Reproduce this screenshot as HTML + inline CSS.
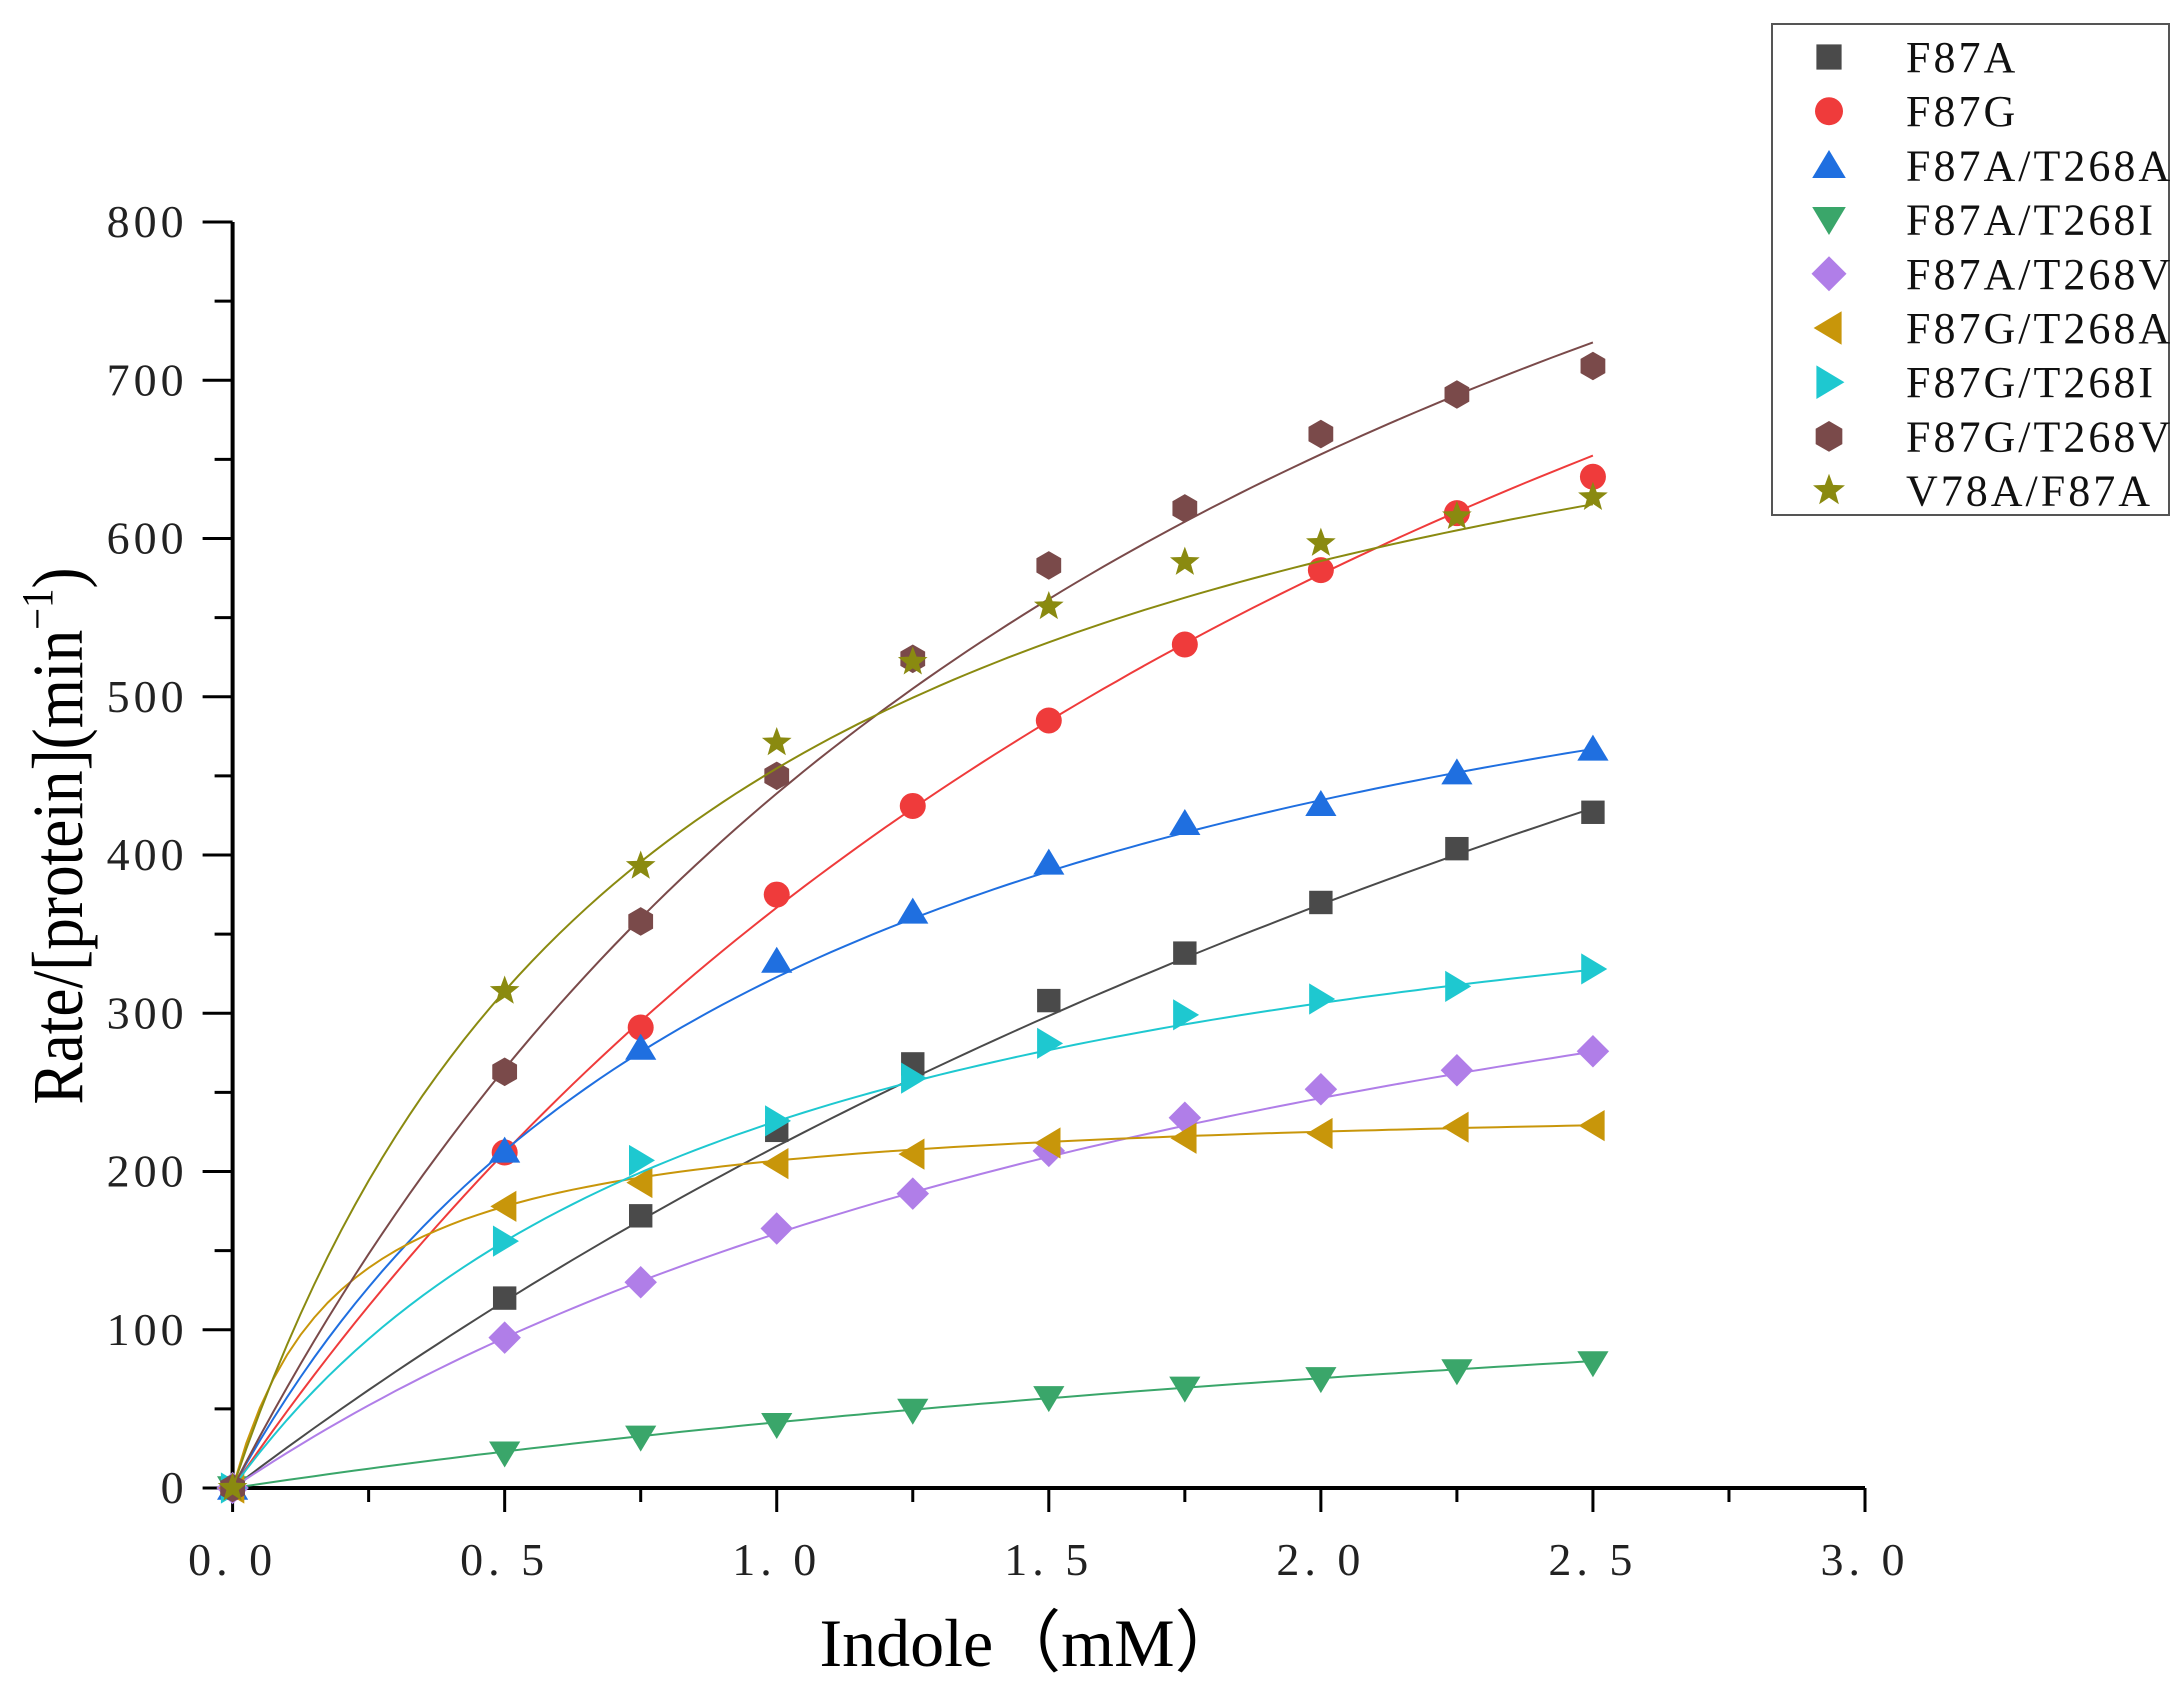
<!DOCTYPE html>
<html><head><meta charset="utf-8"><style>
html,body{margin:0;padding:0;background:#fff;}
svg{display:block;}
</style></head><body>
<svg id="chart" width="2184" height="1699" viewBox="0 0 2184 1699" xmlns="http://www.w3.org/2000/svg">
<g id="axes"></g>
<g id="series"></g>
<g id="legend"></g>
<text x="1031" y="1666" text-anchor="middle" font-family="Liberation Serif, serif" font-size="68">Indole（mM）</text>
<text transform="translate(82,836) rotate(-90) scale(0.88,1)" text-anchor="middle" font-family="Liberation Serif, serif" font-size="72">Rate/[protein](min<tspan dy="-30" font-size="44">−1</tspan><tspan dy="30">)</tspan></text>
</svg>
<script>
const xValues=[0,0.5,0.75,1,1.25,1.5,1.75,2,2.25,2.5];
const seriesNames=["F87A","F87G","F87A/T268A","F87A/T268I","F87A/T268V","F87G/T268A","F87G/T268I","F87G/T268V","V78A/F87A"];
const yF87A=[0,120,172,226,268,308,338,370,404,427];
const yF87G=[0,212,291,375,431,485,533,580,616,639];
const yF87A_T268A=[0,213,278,333,364,395,420,432,452,467];
const yF87A_T268I=[0,22,32,40,49,57,63,69,74,79];
const yF87A_T268V=[0,95,130,164,186,213,234,252,264,276];
const yF87G_T268A=[0,178,193,205,211,218,221,224,228,229];
const yF87G_T268I=[0,156,207,232,259,281,299,309,317,328];
const yF87G_T268V=[0,263,358,450,524,583,619,666,691,709];
const yV78A_F87A=[0,314,393,471,522,557,585,597,614,626];
const fitVmax=[1263,1357,665,211,526,247,452,1277,823];
const fitKm=[4.85,2.70,1.06,4.08,2.27,0.194,0.95,1.91,0.81];
const xTicks=["0. 0","0. 5","1. 0","1. 5","2. 0","2. 5","3. 0"];
const yTicks=["0","100","200","300","400","500","600","700","800"];

const allY=[yF87A,yF87G,yF87A_T268A,yF87A_T268I,yF87A_T268V,yF87G_T268A,yF87G_T268I,yF87G_T268V,yV78A_F87A];
const colors=["#4a4a4a","#ef3b3b","#1f6fe0","#3aa66a","#b07ee8","#c8960a","#1ec8d0","#7a4a4a","#8a8a10"];
const shapes=["square","circle","up","down","diamond","left","right","hex","star"];
const NS="http://www.w3.org/2000/svg";
const X0=232.6,X1=1865,Y0=1488,Y1=222;
const sx=v=>X0+(X1-X0)*v/3;
const sy=v=>Y0-(Y0-Y1)*v/800;
function mk(tag,attrs,parent){const e=document.createElementNS(NS,tag);for(const k in attrs)e.setAttribute(k,attrs[k]);parent.appendChild(e);return e;}
const axes=document.getElementById('axes');
let l=mk('line',{x1:X0,y1:Y1,x2:X0,y2:Y0+2,stroke:'#000','stroke-width':4},axes);


l=mk('line',{x1:X0-2,y1:Y0,x2:X1,y2:Y0,stroke:'#000','stroke-width':4},axes);


yTicks.forEach((t,i)=>{const v=i*100;
 const tk=mk('line',{x1:X0-30,y1:sy(v),x2:X0,y2:sy(v),stroke:'#000','stroke-width':3},axes);
 
 
 if(i<8){const m=mk('line',{x1:X0-18,y1:sy(v+50),x2:X0,y2:sy(v+50),stroke:'#000','stroke-width':3},axes);
 
 }
 const tx=mk('text',{x:X0-45,y:sy(v)+15,'text-anchor':'end','font-family':'Liberation Serif, serif','font-size':46,'letter-spacing':4,fill:'#222'},axes);
 tx.textContent=t;
 
 
});
xTicks.forEach((t,i)=>{const v=i*0.5;
 const tk=mk('line',{x1:sx(v),y1:Y0,x2:sx(v),y2:Y0+24,stroke:'#000','stroke-width':3},axes);
 
 
 if(i<6){const m=mk('line',{x1:sx(v+0.25),y1:Y0,x2:sx(v+0.25),y2:Y0+14,stroke:'#000','stroke-width':3},axes);
 
 }
 const tx=mk('text',{x:sx(v),y:Y0+87,'text-anchor':'middle','font-family':'Liberation Serif, serif','font-size':46,'letter-spacing':5,fill:'#222'},axes);
 tx.textContent=t;
 
 
});
function marker(shape,cx,cy,r,color,parent){
 let e;
 if(shape==='square')e=mk('rect',{x:cx-r*0.9,y:cy-r*0.9,width:r*1.8,height:r*1.8},parent);
 else if(shape==='circle')e=mk('circle',{cx:cx,cy:cy,r:r},parent);
 else{let pts=[];
  if(shape==='up')pts=[[0,-r*1.1],[r*1.2,r*0.9],[-r*1.2,r*0.9]];
  else if(shape==='down')pts=[[0,r*1.1],[r*1.2,-r*0.9],[-r*1.2,-r*0.9]];
  else if(shape==='left')pts=[[-r*1.1,0],[r*0.9,-r*1.2],[r*0.9,r*1.2]];
  else if(shape==='right')pts=[[r*1.1,0],[-r*0.9,-r*1.2],[-r*0.9,r*1.2]];
  else if(shape==='diamond')pts=[[0,-r*1.25],[r*1.25,0],[0,r*1.25],[-r*1.25,0]];
  else if(shape==='hex'){for(let k=0;k<6;k++){const a=Math.PI/6+k*Math.PI/3;pts.push([r*1.1*Math.cos(a),r*1.1*Math.sin(a)]);}}
  else if(shape==='star'){for(let k=0;k<10;k++){const a=-Math.PI/2+k*Math.PI/5;const rr=k%2?r*0.5:r*1.2;pts.push([rr*Math.cos(a),rr*Math.sin(a)]);}}
  e=mk('polygon',{points:pts.map(p=>(cx+p[0])+','+(cy+p[1])).join(' ')},parent);}
 e.setAttribute('fill',color);
 return e;
}
const series=document.getElementById('series');
allY.forEach((ys,si)=>{
 const g=mk('g',{},series);
 
 
 let d='';
 for(let k=0;k<=100;k++){const x=2.5*k/100;const y=fitVmax[si]*x/(fitKm[si]+x);d+=(k?'L':'M')+sx(x).toFixed(1)+','+sy(y).toFixed(1);}
 const p=mk('path',{d:d,fill:'none',stroke:colors[si],'stroke-width':2},g);
 
 
});
allY.forEach((ys,si)=>{
 const g=series.children[si];
 ys.forEach((y,j)=>{const m=marker(shapes[si],sx(xValues[j]),sy(y),13,colors[si],g);
  
  });
});
const leg=document.getElementById('legend');
const box=mk('rect',{x:1772,y:24,width:397,height:491,fill:'#fff',stroke:'#555','stroke-width':2},leg);


seriesNames.forEach((n,i)=>{const y=57+i*54.2;
 const g=mk('g',{},leg);
 
 
 marker(shapes[i],1829,y,14,colors[i],g);
 const t=mk('text',{x:1906,y:y+15,'font-family':'Liberation Serif, serif','font-size':44,'letter-spacing':3,fill:'#111'},g);
 t.textContent=n;});
</script>
</body></html>
